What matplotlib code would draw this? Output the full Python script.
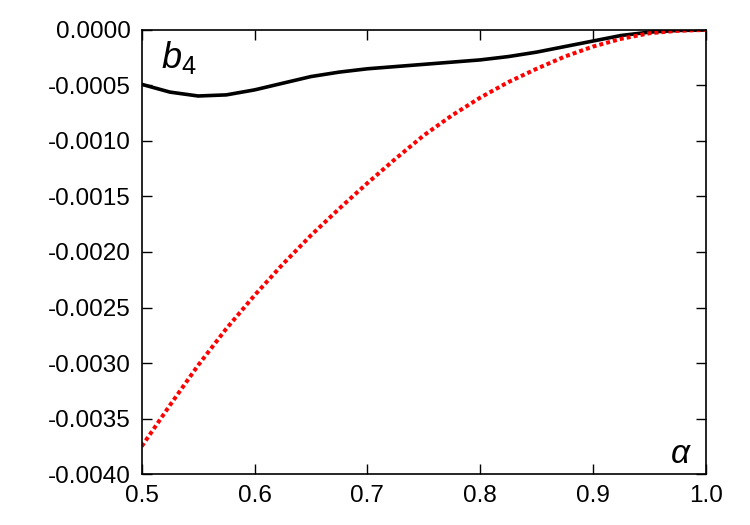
import matplotlib
matplotlib.use("Agg")
import matplotlib.pyplot as plt

plt.rcParams["font.family"] = ["Liberation Sans", "DejaVu Sans"]
plt.rcParams["mathtext.fontset"] = "custom"
plt.rcParams["mathtext.rm"] = "Liberation Sans"
plt.rcParams["mathtext.it"] = "Liberation Sans:italic"

alpha = [0.50, 0.525, 0.55, 0.575, 0.60, 0.625, 0.65, 0.675, 0.70, 0.725,
         0.75, 0.775, 0.80, 0.825, 0.85, 0.875, 0.90, 0.925, 0.95, 0.975, 1.00]
b4_full = [-0.00049, -0.00056, -0.000595, -0.000585, -0.00054, -0.00048,
           -0.00042, -0.00038, -0.00035, -0.00033, -0.00031, -0.00029,
           -0.00027, -0.00024, -0.00020, -0.00015, -0.00010, -0.00005,
           -0.00002, -0.000005, 0.0]
b4_approx = [-0.00375, -0.00338, -0.00302, -0.00269, -0.00239, -0.00211,
             -0.00185, -0.00161, -0.00138, -0.00116, -0.00095, -0.00077,
             -0.00061, -0.00047, -0.00035, -0.00024, -0.00015, -0.00008,
             -0.00003, -0.000008, 0.0]

xticks = [0.5, 0.6, 0.7, 0.8, 0.9, 1.0]
yticks = [0.0, -0.0005, -0.0010, -0.0015, -0.0020, -0.0025, -0.0030, -0.0035, -0.0040]

fig = plt.figure(figsize=(7.5, 5.25), dpi=100)
ax = fig.add_axes([0.189, 0.097, 0.752, 0.846])

ax.plot(alpha, b4_full, color="black", linewidth=2.6, solid_capstyle="butt")
ax.plot(alpha, b4_approx, color="#ff0000", linewidth=2.9,
        linestyle=(0, (1, 0.75)), dash_capstyle="butt")

ax.set_xlim(0.5, 1.0)
ax.set_ylim(-0.004, 0.0)
ax.set_xticks(xticks)
ax.set_xticklabels([f"{v:.1f}" for v in xticks])
ax.set_yticks(yticks)
ax.set_yticklabels([f"{v:.4f}" for v in yticks])
ax.tick_params(direction="in", length=7, width=1, labelsize=17.5,
               top=True, right=True, pad=8)
for s in ax.spines.values():
    s.set_linewidth(1.2)

ax.text(0.035, 0.98, r"$b_4$", transform=ax.transAxes, fontsize=26,
        ha="left", va="top")
ax.text(0.975, 0.01, r"$\alpha$", transform=ax.transAxes, fontsize=24,
        ha="right", va="bottom")

fig.savefig("out.png", dpi=100)
